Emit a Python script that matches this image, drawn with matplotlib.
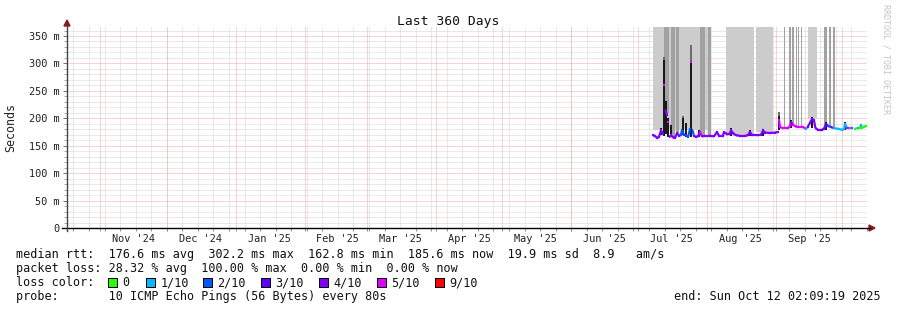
import numpy as np
import matplotlib
matplotlib.use("Agg")
import matplotlib.pyplot as plt
from matplotlib.collections import LineCollection
from matplotlib.lines import Line2D
from matplotlib.patches import Rectangle, Polygon
from matplotlib.ticker import FixedLocator
from datetime import datetime, timedelta

# ---------------- data ----------------
END = datetime(2025, 10, 12, 2, 9, 19)
SPAN_DAYS = 360
START = END - timedelta(days=SPAN_DAYS)

# median rtt (days since window start, ms) and loss class index
med_day = [263.7, 264.6, 265.5, 266.4, 267.3, 268.2, 268.65, 269.3, 270.0, 270.45,
           271.1, 271.8, 272.7, 273.6, 274.5, 275.4, 276.3, 276.75, 277.65, 278.55,
           279.45, 280.35, 280.8, 281.5, 282.15, 283.05, 283.95, 284.85, 285.75, 287.1,
           289.35, 291.15, 292.5, 293.4, 295.2, 295.65, 297.0, 298.35, 298.8, 299.7,
           301.05, 302.85, 305.1, 306.45, 307.35, 308.25, 310.5, 312.3, 313.2, 314.1,
           316.35, 318.6, 319.95, 320.4, 320.85, 322.2, 324.45, 325.35, 325.8, 326.7,
           328.5, 331.2, 332.55, 333.45, 334.35, 335.25, 336.15, 336.8, 337.95, 339.75,
           340.65, 341.55, 342.45, 343.8, 345.15, 346.95, 348.75, 349.65, 350.1, 351.0,
           352.35, 353.25, 354.0, 354.6, 355.95, 356.85, 357.3, 357.75, 358.65, 359.55]
med_ms = [169, 168, 164, 166, 178, 172, 260, 215, 206, 193,
          166, 169, 165, 164, 173, 168, 170, 178, 170, 169,
          166, 180, 302, 178, 168, 166, 167, 175, 167, 168,
          168, 167, 175, 168, 168, 175, 171, 172, 178, 173,
          169, 168, 168, 169, 175, 169, 169, 170, 178, 174,
          173, 174, 175, 197, 184, 182, 182, 186, 193, 188,
          184, 184, 181, 185, 192, 199, 196, 182, 179, 179,
          181, 190, 186, 184, 182, 181, 179, 180, 190, 182,
          182, 182, np.nan, 181, 182, 183, 188, 183, 185, 186]
med_loss = [4, 4, 4, 4, 4, 4, 5, 4, 4, 5,
            4, 4, 4, 4, 4, 4, 2, 2, 4, 2,
            2, 2, 5, 2, 4, 4, 4, 5, 4, 4,
            4, 4, 4, 4, 4, 4, 4, 4, 4, 4,
            4, 4, 4, 4, 4, 4, 4, 4, 4, 4,
            4, 4, 4, 5, 5, 5, 5, 5, 4, 5,
            5, 5, 1, 4, 4, 4, 4, 4, 4, 3,
            4, 3, 2, 4, 1, 1, 1, 1, 1, 5,
            1, 5, 0, 0, 1, 0, 1, 0, 0, 0]

loss_labels = ["0", "1/10", "2/10", "3/10", "4/10", "5/10", "9/10"]
loss_colors = ["#26ff00", "#00b8ff", "#0059ff", "#5e00ff", "#7e00ff", "#dd00ff", "#ff0000"]

# smoke bands reaching the top of the graph (days), shade 0 = light, 1 = dark
smoke_start = [263.7, 296.55, 310.05, 333.45,
               268.65, 271.6, 274.05, 284.85, 288.45, 322.65, 324.9, 326.25,
               328.05, 329.0, 330.3, 340.65, 342.9, 344.7]
smoke_end = [289.8, 309.15, 317.7, 337.5,
             270.9, 273.6, 275.4, 287.1, 289.8, 323.1, 325.8, 327.15,
             328.5, 329.4, 330.75, 342.0, 343.8, 345.6]
smoke_shade = [0, 0, 0, 0,
               1, 1, 1, 1, 1, 1, 1, 1,
               1, 1, 1, 1, 1, 1]

# dense smoke spikes around the median (days, ms low, ms high, ms faint top)
spike_day = [267.3, 268.65, 269.55, 270.45, 271.8, 277.2, 278.55, 280.6, 284.4,
             298.8, 307.35, 313.2, 320.4, 325.8, 335.25, 341.55, 350.1, 357.3]
spike_lo = [170, 168, 172, 165, 165, 170, 165, 165, 165,
            168, 168, 168, 178, 182, 182, 178, 178, 180]
spike_hi = [182, 306, 232, 200, 188, 200, 192, 304, 178,
            182, 178, 180, 205, 196, 202, 193, 193, 190]
spike_top = [182, 312, 232, 200, 188, 205, 192, 333, 178,
             182, 178, 180, 212, 196, 202, 193, 193, 190]

ytick_vals = [0, 50, 100, 150, 200, 250, 300, 350]
ytick_labels = ["0", "50 m", "100 m", "150 m", "200 m", "250 m", "300 m", "350 m"]

month_starts = [datetime(2024, 11, 1), datetime(2024, 12, 1), datetime(2025, 1, 1),
                datetime(2025, 2, 1), datetime(2025, 3, 1), datetime(2025, 4, 1),
                datetime(2025, 5, 1), datetime(2025, 6, 1), datetime(2025, 7, 1),
                datetime(2025, 8, 1), datetime(2025, 9, 1), datetime(2025, 10, 1)]
month_labels = ["Nov '24", "Dec '24", "Jan '25", "Feb '25", "Mar '25", "Apr '25",
                "May '25", "Jun '25", "Jul '25", "Aug '25", "Sep '25", "Oct '25"]

title = "Last 360 Days"
stats_rtt = "median rtt:  176.6 ms avg  302.2 ms max  162.8 ms min  185.6 ms now  19.9 ms sd  8.9   am/s"
stats_loss = "packet loss: 28.32 % avg  100.00 % max  0.00 % min  0.00 % now"
probe_text = "probe:       10 ICMP Echo Pings (56 Bytes) every 80s"
end_text = "end: Sun Oct 12 02:09:19 2025"

# ---------------- drawing ----------------
W, H = 897, 310
MONO = "DejaVu Sans Mono"
plt.rcParams["font.family"] = MONO


def day(dt):
    return (dt - START).total_seconds() / 86400.0


def fx(px):
    return px / W


def fy(py):
    return 1 - py / H


fig = plt.figure(figsize=(W / 100, H / 100), dpi=100)
fig.patch.set_facecolor("white")
L, R, T, B = 67, 867, 27, 228
ax = fig.add_axes([fx(L), fy(B), (R - L) / W, (B - T) / H])
ax.set_facecolor("white")
YTOP = 366.4
ax.set_xlim(0, SPAN_DAYS)
ax.set_ylim(0, YTOP)
for s in ax.spines.values():
    s.set_visible(False)

PX = 0.72  # one pixel in points
minor_c = "#d4d4d4"
major_c = "#f0a8a8"

# horizontal grid
for v in range(10, int(YTOP) + 1, 10):
    c = major_c if v % 50 == 0 else minor_c
    ax.axhline(v, color=c, lw=PX, dashes=(1, 1), zorder=1)

# vertical grid: weekly (Sundays) minor, monthly major
week_days = []
d0 = datetime(2024, 10, 20)
while day(d0) < SPAN_DAYS:
    week_days.append(day(d0))
    d0 += timedelta(days=7)
month_days = [day(m) for m in month_starts]
for wd in week_days:
    ax.axvline(wd, color=minor_c, lw=PX, dashes=(1, 1), zorder=1)
for md in month_days:
    ax.axvline(md, color=major_c, lw=PX, dashes=(1, 1), zorder=1.1)

# smoke bands
md_arr = np.array(med_day)
mv_arr = np.array(med_ms, dtype=float)
ok = ~np.isnan(mv_arr)
shade_cols = ["#cccccc", "#a2a2a2"]
for s0, s1, sh in zip(smoke_start, smoke_end, smoke_shade):
    bottom = np.interp((s0 + s1) / 2, md_arr[ok], mv_arr[ok])
    ax.bar(s0, YTOP - bottom, width=s1 - s0, bottom=bottom, align="edge",
           color=shade_cols[sh], linewidth=0, zorder=2 + sh * 0.1)

# dense smoke spikes
for d, lo, hi, tp in zip(spike_day, spike_lo, spike_hi, spike_top):
    if tp > hi:
        ax.plot([d, d], [hi, tp], color="#6a6a6a", lw=1.4, zorder=3, solid_capstyle="butt")
    ax.plot([d, d], [lo, hi], color="#151515", lw=1.4, zorder=3.1, solid_capstyle="butt")

# median line coloured by loss
segs, cols = [], []
half = 0.3
for i in range(len(med_day)):
    v = med_ms[i]
    if np.isnan(v):
        continue
    segs.append([(med_day[i] - half, v), (med_day[i] + half, v)])
    cols.append(loss_colors[med_loss[i]])
    if i + 1 < len(med_day):
        v2 = med_ms[i + 1]
        if np.isnan(v2):
            continue
        if med_loss[i] == med_loss[i + 1] or abs(v2 - v) < 12:
            segs.append([(med_day[i], v), (med_day[i + 1], v2)])
            cols.append(loss_colors[med_loss[i]])
lc = LineCollection(segs, colors=cols, linewidths=1.6, zorder=4, capstyle="butt")
ax.add_collection(lc)

# ticks and labels
ax.set_yticks(ytick_vals)
ax.set_yticklabels(ytick_labels)
ax.yaxis.set_minor_locator(FixedLocator([v for v in range(10, 361, 10) if v % 50]))
ax.tick_params(axis="y", which="major", length=3, width=PX, color="#777777",
               pad=2.5, labelsize=7.4, labelcolor="#222222")
ax.tick_params(axis="y", which="minor", length=2, width=PX, color="#aaaaaa")

lab_pos, lab_txt = [], []
for md, lbl in zip(month_days, month_labels):
    p = md + 15
    if 0 <= p <= SPAN_DAYS:
        lab_pos.append(p)
        lab_txt.append(lbl)
ax.set_xticks(lab_pos)
ax.set_xticklabels(lab_txt)
ax.xaxis.set_minor_locator(FixedLocator(sorted(week_days + month_days)))
ax.tick_params(axis="x", which="major", length=0, pad=4.2, labelsize=7.4, labelcolor="#222222")
ax.tick_params(axis="x", which="minor", length=2, width=PX, color="#c08080")

# axis lines with arrows (pixel coordinates)
fig.add_artist(Line2D([fx(62), fx(870)], [fy(B), fy(B)], color="#000000", lw=1.0,
                      transform=fig.transFigure))
fig.add_artist(Line2D([fx(L), fx(L)], [fy(231), fy(25)], color="#444444", lw=1.0,
                      transform=fig.transFigure))
arrow_c = "#8b1c1c"
fig.add_artist(Polygon([(fx(869), fy(B - 3)), (fx(869), fy(B + 3)), (fx(875), fy(B))],
                       closed=True, color=arrow_c, transform=fig.transFigure))
fig.add_artist(Polygon([(fx(L - 3), fy(26)), (fx(L + 3), fy(26)), (fx(L), fy(20))],
                       closed=True, color=arrow_c, transform=fig.transFigure))

# title, axis label, watermark
fig.text(fx(448.5), fy(25), title, ha="center", va="baseline", fontsize=9.4,
         family=MONO, color="#111111")
fig.text(fx(11), fy(127.5), "Seconds", ha="center", va="center", rotation=90,
         fontsize=8.4, family=MONO, color="#222222")
fig.text(fx(886), fy(4), "RRDTOOL / TOBI OETIKER", ha="center", va="top", rotation=270,
         fontsize=6.0, family=MONO, color="#c4c4c4")

# legend rows
LX = 16
fs = 8.5
fig.text(fx(LX), fy(258), stats_rtt, ha="left", va="baseline", fontsize=fs, color="#111111")
fig.text(fx(LX), fy(272), stats_loss, ha="left", va="baseline", fontsize=fs, color="#111111")
fig.text(fx(LX), fy(286), "loss color:", ha="left", va="baseline", fontsize=fs, color="#111111")
box_x = [108, 146, 203, 261, 319, 377, 435]
for bx, lbl, c in zip(box_x, loss_labels, loss_colors):
    fig.add_artist(Rectangle((fx(bx), fy(287)), 9 / W, 9 / H, facecolor=c,
                             edgecolor="#000000", linewidth=PX, transform=fig.transFigure))
    fig.text(fx(bx + 14.5), fy(286), lbl, ha="left", va="baseline", fontsize=fs, color="#111111")
fig.text(fx(LX), fy(300), probe_text, ha="left", va="baseline", fontsize=fs, color="#111111")
fig.text(fx(881), fy(300), end_text, ha="right", va="baseline", fontsize=fs, color="#111111")

fig.savefig("out.png", dpi=100, facecolor="white")
